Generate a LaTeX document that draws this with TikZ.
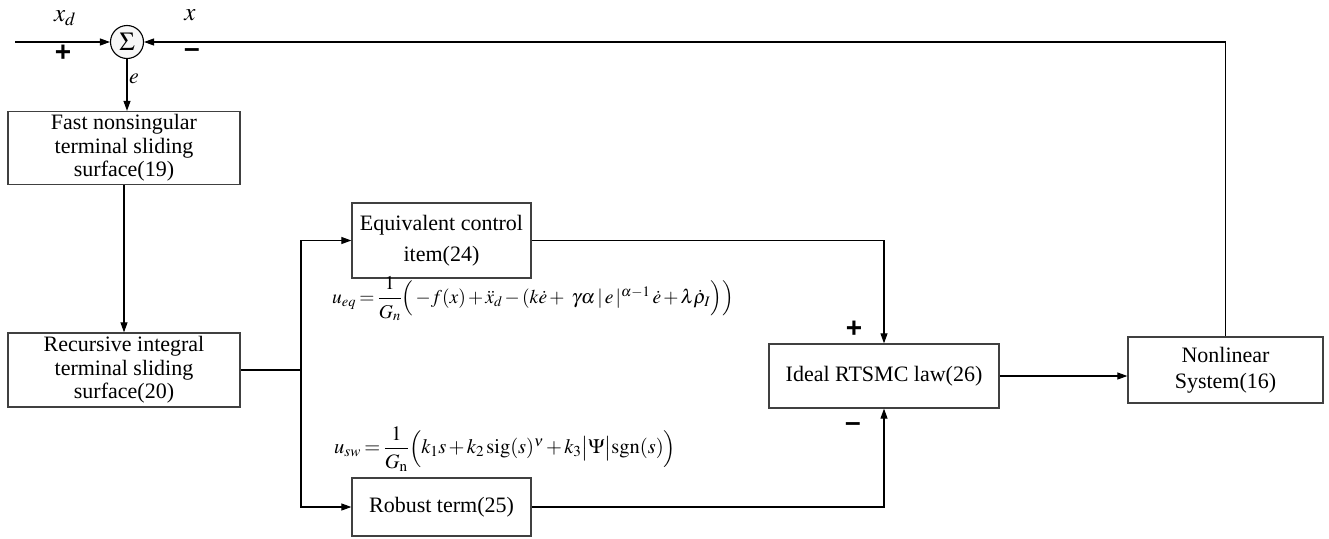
\documentclass[tikz,border=0pt]{standalone}
\usepackage{amsmath}
\usepackage{mathptmx}
\usepackage[no-math]{fontspec}
\setmainfont{Liberation Serif}
\newfontfamily\signfont{Liberation Sans}
\usetikzlibrary{arrows.meta}
\newcommand{\upnum}[1]{#1\rule[-5pt]{0pt}{5pt}}
\newcommand{\dnden}[1]{\rule{0pt}{17pt}#1}
\newcommand{\tightmath}{\thickmuskip=3mu \medmuskip=2mu }
\begin{document}
\begin{tikzpicture}[x=1pt,y=-1pt,
  blk/.style={draw=black!75, line width=1.3pt, fill=white, inner sep=0pt, align=center,
              font=\fontsize{22}{23.5}\selectfont},
  arr/.style={-{Triangle[length=10pt,width=7pt]}, line width=1.1pt},
  ln/.style={line width=1.1pt},
  sgn/.style={font=\signfont\bfseries\fontsize{28}{28}\selectfont, inner sep=0pt},
  lab/.style={font=\fontsize{25}{25}\selectfont, inner sep=0pt},
  frm/.style={font=\fontsize{20.5}{22}\selectfont, inner sep=0pt, anchor=west}]
\useasboundingbox (0,0) rectangle (1329,538);

% summing junction
\node[circle, draw, line width=1.1pt, minimum size=33pt, inner sep=0pt, fill=gray!6,
      font=\fontsize{26}{26}\selectfont] (sum) at (127,42) {$\Sigma$};
\coordinate (in) at (15,42);
\node[lab] (xd) at (65,18) {$x_d$};
\node[sgn] (p1) at (63,53) {+};
\node[lab] (xl) at (190,15) {$x$};
\node[sgn] (m1) at (192,53) {–};
\node[lab, font=\fontsize{22}{22}\selectfont] (el) at (134,79) {$e$};

% blocks
\node[blk, minimum width=232pt, minimum height=73pt] (fns) at (124,148)
  {Fast nonsingular\\terminal sliding\\surface(19)};
\node[blk, minimum width=232pt, minimum height=74pt] (ris) at (124,370)
  {Recursive integral\\terminal sliding\\surface(20)};
\node[blk, minimum width=179pt, minimum height=75pt] (eqc) at (441.5,240.5)
  {Equivalent control\\[7pt]item(24)};
\node[blk, minimum width=179pt, minimum height=58pt] (rob) at (441.5,507)
  {Robust term(25)};
\node[blk, minimum width=230pt, minimum height=64pt] (ide) at (884,376)
  {Ideal RTSMC law(26)};
\node[blk, minimum width=195pt, minimum height=66pt] (nls) at (1225.5,370)
  {Nonlinear\\[3pt]System(16)};

% signs at the ideal law block
\node[sgn] (p2) at (854,329) {+};
\node[sgn] (m2) at (853,427) {–};

% formulas
\node[frm, font=\fontsize{19.5}{22}\selectfont] (ueq) at (332,299)
  {$\tightmath u_{eq} = \dfrac{\upnum{1}}{\dnden{G_n}}\Big(\,{-f(x)}+\ddot{x}_d-(k\dot{e}+\ \gamma\alpha\,|\,e\,|^{\alpha-1}\,\dot{e}+\lambda\dot{\rho}_I\Big)\Big)$};
\node[frm] (usw) at (334,449)
  {$\tightmath u_{sw} = \dfrac{\upnum{1}}{\dnden{G_{\mathrm{n}}}}\Big(k_1 s + k_2\,\mathrm{sig}(s)^{\nu}+k_3\big|\Psi\big|\mathrm{sgn}(s)\Big)$};

% connectors
\coordinate (br) at (301,370);
\draw[arr] (in) -- (sum.west);
\draw[arr] (sum.south) -- (sum.south |- fns.north);
\draw[arr] (fns.south) -- (ris.north);
\draw[ln] (ris.east) -- (br);
\draw[arr] (br) |- (eqc.west);
\draw[arr] (br) |- (rob.west);
\draw[arr] (eqc.east) -| (ide.north);
\draw[arr] (rob.east) -| (ide.south);
\draw[arr] (ide.east) -- (ide.east -| nls.west);
\draw[arr] (nls.north) |- (sum.east);
\end{tikzpicture}
\end{document}
